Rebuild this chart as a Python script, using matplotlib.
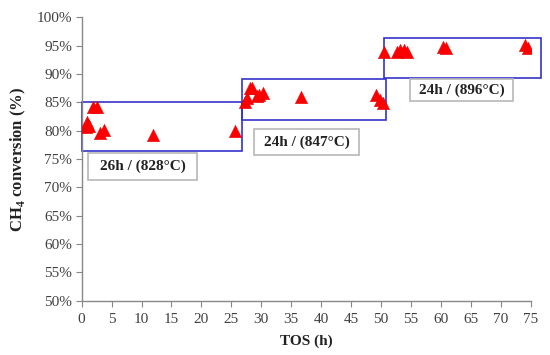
import matplotlib
matplotlib.use("Agg")
import matplotlib.pyplot as plt
from matplotlib.patches import Rectangle
from matplotlib.ticker import FuncFormatter, MultipleLocator

plt.rcParams['font.family'] = ['Liberation Serif', 'DejaVu Serif']
plt.rcParams['mathtext.fontset'] = 'custom'
plt.rcParams['mathtext.rm'] = 'Liberation Serif'
plt.rcParams['mathtext.bf'] = 'Liberation Serif:bold'

tos = [0.7, 0.85, 1.2, 1.9, 2.5, 3.05, 3.8, 11.95, 25.6,
       27.3, 27.6, 28.1, 28.5, 29.2, 29.6, 30.2, 36.6, 49.2, 49.8, 50.4,
       50.5, 52.6, 53.2, 53.9, 54.3, 60.3, 60.8, 74.0, 74.5]
conv = [80.7, 81.5, 80.8, 84.2, 84.2, 79.5, 80.1, 79.2, 79.9,
        85.1, 85.7, 87.6, 87.6, 86.1, 86.3, 86.6, 85.9, 86.3, 85.4, 84.8,
        93.9, 93.9, 94.2, 94.3, 93.9, 94.7, 94.5, 95.1, 94.5]

# stage boxes: (x0, x1, y0, y1)
stage_boxes = [(0, 26.7, 76.4, 85.0), (26.7, 50.8, 81.9, 89.1), (50.5, 76.7, 89.2, 96.4)]
stage_labels = ["26h / (828°C)", "24h / (847°C)", "24h / (896°C)"]
# label frames: (x0, x1, y0, y1)
label_boxes = [(1.1, 19.3, 71.3, 76.0), (28.8, 46.3, 75.7, 80.3), (54.8, 72.1, 85.3, 89.1)]

fig = plt.figure(figsize=(5.5, 3.55), dpi=100)
ax = fig.add_axes([0.1485, 0.1535, 0.8165, 0.7978])

ax.scatter(tos, conv, marker='^', s=80, color='#ff0000', edgecolors='#e00000', linewidths=0.3, zorder=3)

for (x0, x1, y0, y1) in stage_boxes:
    ax.add_patch(Rectangle((x0, y0), x1 - x0, y1 - y0, fill=False, edgecolor='#3333cc',
                           linewidth=1.2, clip_on=False, zorder=2))

for txt, (x0, x1, y0, y1) in zip(stage_labels, label_boxes):
    ax.add_patch(Rectangle((x0, y0), x1 - x0, y1 - y0, facecolor='white', edgecolor='#b8b8b8',
                           linewidth=1.2, clip_on=False, zorder=4))
    ax.text((x0 + x1) / 2, (y0 + y1) / 2, txt, fontsize=11, fontweight='bold', color='#222222',
            ha='center', va='center', zorder=5)

ax.set_xlim(0, 75)
ax.set_ylim(50, 100)
ax.xaxis.set_major_locator(MultipleLocator(5))
ax.yaxis.set_major_locator(MultipleLocator(5))
ax.yaxis.set_major_formatter(FuncFormatter(lambda v, p: f"{v:.0f}%"))

for s in ['top', 'right']:
    ax.spines[s].set_visible(False)
for s in ['left', 'bottom']:
    ax.spines[s].set_color('#888888')
    ax.spines[s].set_linewidth(1)
ax.tick_params(axis='both', direction='out', length=4, color='#888888', labelsize=11,
               labelcolor='#404040')
ax.tick_params(axis='x', pad=5)
ax.tick_params(axis='y', pad=3)

ax.set_xlabel("TOS (h)", fontsize=11, fontweight='bold', labelpad=6, color='#222222')
ax.set_ylabel("CH$_\\mathbf{4}$ conversion (%)", fontsize=12, fontweight='bold', labelpad=6,
              color='#222222')

fig.savefig("out.png", dpi=100)
